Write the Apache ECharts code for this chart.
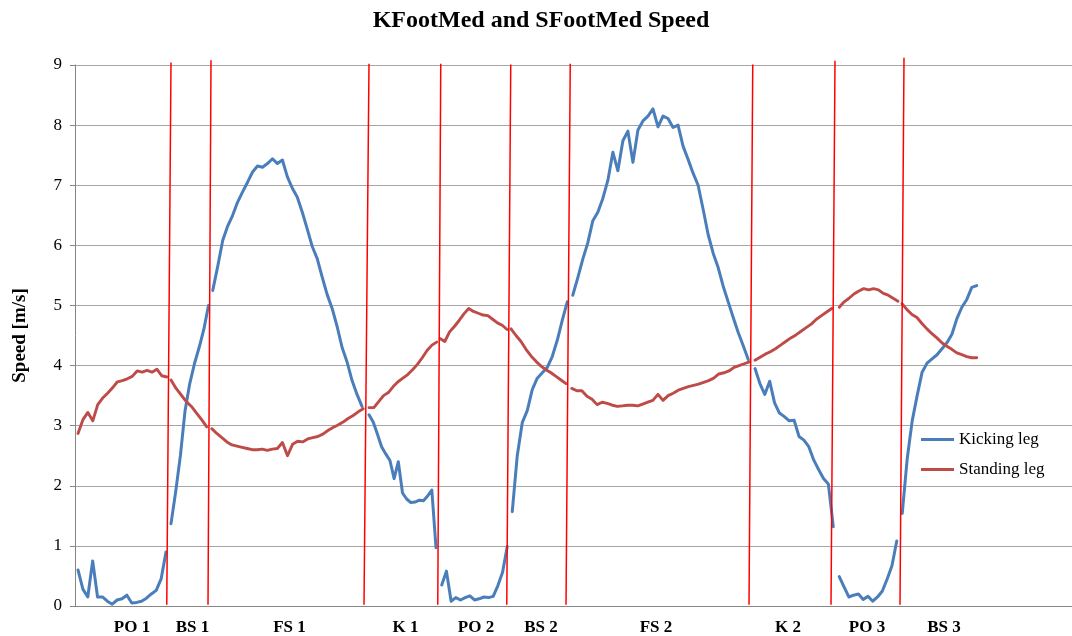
<!DOCTYPE html>
<html>
<head>
<meta charset="utf-8">
<script src="https://cdn.jsdelivr.net/npm/echarts@6/dist/echarts.min.js"></script>
<style>
  html, body { margin: 0; padding: 0; background: #fff; }
  #chart { width: 1072px; height: 636px; }
</style>
</head>
<body>
<div id="chart"></div>
<script>
// Phase labels along the time axis (frame numbers mark the label centres)
const phaseNames = ['PO 1', 'BS 1', 'FS 1', 'K 1', 'PO 2', 'BS 2', 'FS 2', 'K 2', 'PO 3', 'BS 3'];
const phaseLabelFrames = [22.8, 47, 85.8, 132.2, 160.4, 186.4, 232.4, 285.2, 316.8, 347.6];

// Phase boundary markers: frame at the top and at the bottom of each marker, and its top speed
const boundaryTopFrame = [38.4, 54.4, 117.6, 146.3, 174.3, 198.1, 271.1, 304, 331.6];
const boundaryBottomFrame = [36.7, 53.2, 115.6, 145.1, 172.7, 196.4, 269.6, 302.4, 330];
const boundaryTopSpeed = [9.04, 9.08, 9.02, 9.02, 9.01, 9.02, 9.01, 9.07, 9.12];

// Kicking leg (KFootMed): first/last frame of each phase and the speeds recorded in it [m/s]
const kickingSpans = [[1.2, 36.4], [38.4, 53.4], [55.1, 114.8], [117.6, 144.4], [146.7, 172.9],
                      [174.9, 196.9], [199.1, 269.3], [272, 303.3], [305.7, 328.7], [330.9, 360.7]];
const kickingPO1 = [0.6, 0.28, 0.15, 0.75, 0.15, 0.15, 0.08, 0.03, 0.1, 0.12, 0.18, 0.05, 0.06, 0.08, 0.13, 0.2, 0.26, 0.45, 0.9];
const kickingBS1 = [1.37, 1.9, 2.5, 3.25, 3.7, 4.03, 4.3, 4.6, 5.0];
const kickingFS1 = [5.25, 5.65, 6.08, 6.32, 6.5, 6.72, 6.89, 7.05, 7.22, 7.32, 7.3, 7.36, 7.44, 7.36, 7.42, 7.14,
                    6.95, 6.8, 6.55, 6.27, 5.98, 5.78, 5.47, 5.18, 4.95, 4.65, 4.3, 4.06, 3.75, 3.52, 3.32];
const kickingK1 = [3.18, 3.06, 2.86, 2.65, 2.53, 2.42, 2.12, 2.4, 1.88, 1.78, 1.72, 1.73, 1.76, 1.75, 1.83, 1.93, 0.97];
const kickingPO2 = [0.35, 0.58, 0.08, 0.14, 0.1, 0.14, 0.17, 0.1, 0.12, 0.15, 0.14, 0.16, 0.34, 0.56, 0.99];
const kickingBS2 = [1.57, 2.5, 3.05, 3.25, 3.6, 3.79, 3.88, 3.97, 4.15, 4.42, 4.75, 5.06];
const kickingFS2 = [5.17, 5.46, 5.77, 6.04, 6.41, 6.55, 6.78, 7.08, 7.55, 7.24, 7.74, 7.9, 7.38, 7.92, 8.07, 8.15,
                    8.27, 7.97, 8.15, 8.11, 7.96, 8.0, 7.65, 7.43, 7.2, 7.0, 6.6, 6.18, 5.87, 5.63, 5.32, 5.06,
                    4.8, 4.55, 4.33, 4.1];
const kickingK2 = [3.95, 3.7, 3.52, 3.74, 3.38, 3.21, 3.15, 3.08, 3.09, 2.82, 2.76, 2.65, 2.43, 2.27, 2.12, 2.03, 1.32];
const kickingPO3 = [0.49, 0.32, 0.15, 0.18, 0.2, 0.11, 0.16, 0.08, 0.15, 0.25, 0.45, 0.67, 1.08];
const kickingBS3 = [1.54, 2.45, 3.08, 3.5, 3.89, 4.04, 4.11, 4.18, 4.28, 4.38, 4.52, 4.78, 4.97, 5.1, 5.3, 5.33];

// Standing leg (SFootMed)
const standingSpans = [[1.2, 36.7], [38.4, 52.7], [54.7, 115.3], [117.6, 144.7], [146, 172.8],
                       [174.4, 196.4], [198.7, 269.7], [272, 302.7], [305.7, 329.2], [330.8, 360.7]];
const standingPO1 = [2.87, 3.1, 3.22, 3.08, 3.35, 3.46, 3.54, 3.63, 3.73, 3.75, 3.78, 3.82, 3.91, 3.89, 3.92, 3.89, 3.94, 3.83, 3.81];
const standingBS1 = [3.76, 3.62, 3.51, 3.4, 3.32, 3.21, 3.1, 2.98];
const standingFS1 = [2.95, 2.87, 2.8, 2.73, 2.68, 2.66, 2.64, 2.62, 2.6, 2.6, 2.61, 2.59, 2.61, 2.62, 2.72, 2.5,
                     2.69, 2.74, 2.73, 2.78, 2.8, 2.82, 2.86, 2.92, 2.97, 3.01, 3.06, 3.12, 3.17, 3.23, 3.28];
const standingK1 = [3.3, 3.3, 3.4, 3.5, 3.55, 3.65, 3.73, 3.79, 3.85, 3.93, 4.02, 4.13, 4.25, 4.34, 4.39];
const standingPO2 = [4.45, 4.4, 4.56, 4.65, 4.75, 4.86, 4.95, 4.9, 4.87, 4.84, 4.83, 4.77, 4.71, 4.67, 4.6];
const standingBS2 = [4.61, 4.5, 4.4, 4.27, 4.16, 4.07, 3.99, 3.93, 3.88, 3.82, 3.76, 3.7];
const standingFS2 = [3.62, 3.58, 3.58, 3.49, 3.44, 3.35, 3.39, 3.37, 3.34, 3.32, 3.33, 3.34, 3.34, 3.33, 3.36, 3.39,
                     3.42, 3.52, 3.42, 3.5, 3.54, 3.59, 3.62, 3.65, 3.67, 3.69, 3.72, 3.75, 3.79, 3.86, 3.88, 3.91,
                     3.97, 4.0, 4.03, 4.06];
const standingK2 = [4.09, 4.14, 4.19, 4.23, 4.28, 4.34, 4.4, 4.46, 4.51, 4.57, 4.63, 4.69, 4.77, 4.83, 4.89, 4.95];
const standingPO3 = [4.97, 5.06, 5.12, 5.19, 5.24, 5.28, 5.26, 5.28, 5.26, 5.2, 5.17, 5.12, 5.07];
const standingBS3 = [5.03, 4.93, 4.85, 4.8, 4.7, 4.61, 4.53, 4.46, 4.38, 4.32, 4.27, 4.21, 4.18, 4.15, 4.13, 4.13];

const kickingPhases = [kickingPO1, kickingBS1, kickingFS1, kickingK1, kickingPO2,
                       kickingBS2, kickingFS2, kickingK2, kickingPO3, kickingBS3];
const standingPhases = [standingPO1, standingBS1, standingFS1, standingK1, standingPO2,
                        standingBS2, standingFS2, standingK2, standingPO3, standingBS3];

// Samples of a phase are evenly spaced between its first and last frame;
// phases are kept apart with a break in the line.
function phaseSeriesData(spans, phases) {
  const out = [];
  phases.forEach((vals, p) => {
    const [a, b] = spans[p];
    if (p > 0) out.push([(spans[p - 1][1] + a) / 2, '-']);
    vals.forEach((v, k) => out.push([a + (b - a) * k / (vals.length - 1), v]));
  });
  return out;
}

function boundaryData() {
  const out = [];
  boundaryTopFrame.forEach((f, i) => {
    if (i > 0) out.push([f, '-']);
    out.push([f, boundaryTopSpeed[i]]);
    out.push([boundaryBottomFrame[i], 0.02]);
  });
  return out;
}

const serif = '"Liberation Serif", "Times New Roman", serif';
const chart = echarts.init(document.getElementById('chart'), null, { renderer: 'canvas' });

chart.setOption({
  animation: false,
  backgroundColor: '#ffffff',
  title: {
    text: 'KFootMed and SFootMed Speed',
    left: 536,
    textAlign: 'center',
    top: 4,
    textStyle: { fontFamily: serif, fontWeight: 'bold', fontSize: 24, color: '#000' }
  },
  grid: { left: 75, top: 65, width: 1000, height: 541, containLabel: false, outerBoundsMode: 'none' },
  legend: {
    data: ['Kicking leg', 'Standing leg'],
    orient: 'vertical',
    left: 916,
    top: 426,
    icon: 'rect',
    itemWidth: 33,
    itemHeight: 3,
    itemGap: 13,
    selectedMode: false,
    textStyle: { fontFamily: serif, fontSize: 17, color: '#000' }
  },
  xAxis: {
    type: 'value',
    min: 0,
    max: 400,
    splitLine: { show: false },
    axisTick: { show: false },
    axisLine: { show: true, onZero: false, lineStyle: { color: '#868686', width: 1 } },
    axisLabel: {
      customValues: phaseLabelFrames,
      formatter: (v) => phaseNames[phaseLabelFrames.indexOf(v)] || '',
      margin: 13,
      fontFamily: serif,
      fontWeight: 'bold',
      fontSize: 17,
      color: '#000'
    }
  },
  yAxis: {
    type: 'value',
    min: 0,
    max: 9,
    interval: 1,
    name: 'Speed [m/s]',
    nameLocation: 'middle',
    nameGap: 45,
    nameTextStyle: { fontFamily: serif, fontWeight: 'bold', fontSize: 19, color: '#000' },
    axisLine: { show: true, lineStyle: { color: '#868686', width: 1 } },
    axisTick: { show: true, length: 5, lineStyle: { color: '#868686' } },
    splitLine: { show: true, lineStyle: { color: '#a6a6a6', width: 1 } },
    axisLabel: { margin: 13, fontFamily: serif, fontSize: 17, color: '#000' }
  },
  series: [
    {
      name: 'Kicking leg',
      type: 'line',
      data: phaseSeriesData(kickingSpans, kickingPhases),
      showSymbol: false,
      symbol: 'none',
      connectNulls: false,
      color: '#4A7EBB',
      lineStyle: { color: '#4A7EBB', width: 3, join: 'round', cap: 'round' },
      emphasis: { disabled: true },
      z: 2
    },
    {
      name: 'Standing leg',
      type: 'line',
      data: phaseSeriesData(standingSpans, standingPhases),
      showSymbol: false,
      symbol: 'none',
      connectNulls: false,
      color: '#BE4B48',
      lineStyle: { color: '#BE4B48', width: 2.9, join: 'round', cap: 'round' },
      emphasis: { disabled: true },
      z: 3
    },
    {
      name: 'phase boundaries',
      type: 'line',
      data: boundaryData(),
      showSymbol: false,
      symbol: 'none',
      connectNulls: false,
      clip: false,
      silent: true,
      lineStyle: { color: '#FF0000', width: 1.5 },
      emphasis: { disabled: true },
      z: 4
    }
  ]
});
</script>
</body>
</html>
